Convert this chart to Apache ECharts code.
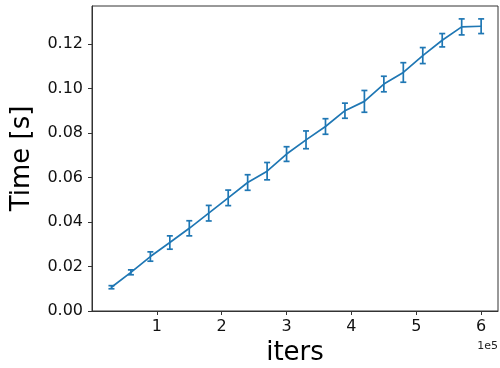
<!DOCTYPE html>
<html>
<head>
<meta charset="utf-8">
<script src="https://cdn.jsdelivr.net/npm/echarts@6/dist/echarts.min.js"></script>
<style>
  html, body { margin: 0; padding: 0; background: #fff; }
  #chart { width: 500px; height: 368px; }
</style>
</head>
<body>
<div id="chart"></div>
<script>
// iteration counts (x) and mean run time with its error (y)
var iters = [30000, 60000, 90000, 120000, 150000, 180000, 210000, 240000, 270000, 300000,
  330000, 360000, 390000, 420000, 450000, 480000, 510000, 540000, 570000, 600000]
var timeMean = [0.0107, 0.0174, 0.0245, 0.0308, 0.0372, 0.0440, 0.0509, 0.0578, 0.0629, 0.0706,
  0.0770, 0.0830, 0.0901, 0.0943, 0.1021, 0.1073, 0.1149, 0.1218, 0.1278, 0.1281]
var timeErr = [0.0007, 0.0011, 0.0021, 0.0030, 0.0034, 0.0035, 0.0035, 0.0035, 0.0039, 0.0033,
  0.0040, 0.0035, 0.0034, 0.0049, 0.0035, 0.0044, 0.0036, 0.0030, 0.0036, 0.0033]
var xTicks = [100000, 200000, 300000, 400000, 500000, 600000]

var lineColor = '#1f77b4'
var font = 'DejaVu Sans'

var lineData = iters.map(function (x, i) { return [x, timeMean[i]] })
var errData = iters.map(function (x, i) {
  return [x, timeMean[i] - timeErr[i], timeMean[i] + timeErr[i]]
})

var chart = echarts.init(document.getElementById('chart'))
chart.setOption({
  animation: false,
  grid: {
    left: 92,
    right: 2,
    top: 6,
    bottom: 57,
    outerBoundsMode: 'none',
    show: true,
    borderColor: '#333',
    borderWidth: 1
  },
  xAxis: {
    type: 'value',
    min: 0,
    max: 626000,
    interval: 100000,
    name: 'iters',
    nameLocation: 'middle',
    nameGap: 29,
    nameTextStyle: { fontFamily: font, fontSize: 26, color: '#000' },
    splitLine: { show: false },
    axisLine: { show: true, lineStyle: { color: '#333', width: 1 } },
    axisTick: { show: true, length: 4, lineStyle: { color: '#333' }, customValues: xTicks },
    axisLabel: {
      fontFamily: font,
      fontSize: 16,
      color: '#111',
      margin: 8,
      customValues: xTicks,
      formatter: function (v) { return String(Math.round(v / 100000)) }
    }
  },
  yAxis: {
    type: 'value',
    min: 0,
    max: 0.1372,
    interval: 0.02,
    name: 'Time [s]',
    nameLocation: 'middle',
    nameGap: 57,
    nameRotate: 90,
    nameTextStyle: { fontFamily: font, fontSize: 26, color: '#000' },
    splitLine: { show: false },
    axisLine: { show: true, lineStyle: { color: '#333', width: 1 } },
    axisTick: { show: true, length: 4, lineStyle: { color: '#333' } },
    axisLabel: {
      fontFamily: font,
      fontSize: 16,
      color: '#111',
      margin: 9,
      showMaxLabel: false,
      formatter: function (v) { return v.toFixed(2) }
    }
  },
  graphic: [{
    type: 'text',
    right: 2,
    top: 341,
    style: { text: '1e5', fontFamily: font, fontSize: 11, fill: '#222' }
  }],
  series: [
    {
      type: 'line',
      data: lineData,
      symbol: 'none',
      lineStyle: { color: lineColor, width: 1.7 },
      z: 2
    },
    {
      type: 'custom',
      data: errData,
      z: 3,
      renderItem: function (params, api) {
        var lo = api.coord([api.value(0), api.value(1)])
        var hi = api.coord([api.value(0), api.value(2)])
        var w = 3
        var st = { stroke: lineColor, lineWidth: 1.7 }
        return {
          type: 'group',
          children: [
            { type: 'line', shape: { x1: lo[0], y1: lo[1], x2: hi[0], y2: hi[1] }, style: st },
            { type: 'line', shape: { x1: lo[0] - w, y1: lo[1], x2: lo[0] + w, y2: lo[1] }, style: st },
            { type: 'line', shape: { x1: hi[0] - w, y1: hi[1], x2: hi[0] + w, y2: hi[1] }, style: st }
          ]
        }
      }
    }
  ]
})
</script>
</body>
</html>
